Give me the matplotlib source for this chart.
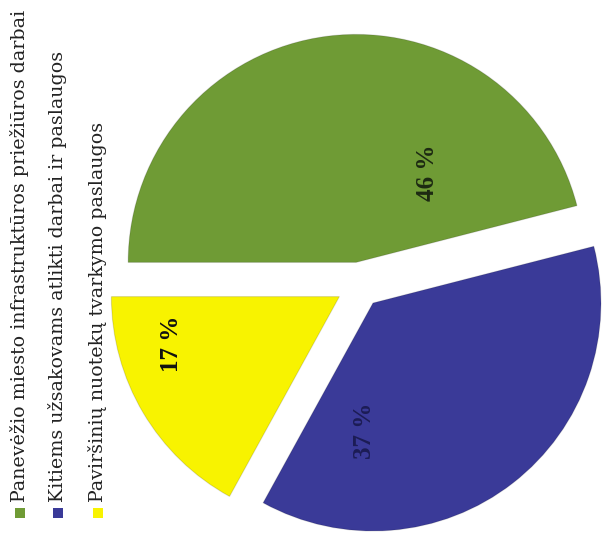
import matplotlib
matplotlib.use('Agg')
import matplotlib.pyplot as plt
from matplotlib.patches import Rectangle
import numpy as np

categories = ["Panevėžio miesto infrastruktūros priežiūros darbai",
              "Kitiems užsakovams atlikti darbai ir paslaugos",
              "Paviršinių nuotekų tvarkymo paslaugos"]
shares = [46, 37, 17]
pct_labels = ["46 %", "37 %", "17 %"]
colors = ["#6f9b35", "#3a3a98", "#f8f300"]
label_colors = ["#1d2a12", "#1c1c55", "#111111"]
# label placement (angle in degrees, distance in radius units) relative to pie centre
label_pos = [(58.7, 0.575), (-88.0, 0.64), (-162.5, 0.86)]

W, H = 604, 548
fig = plt.figure(figsize=(W / 100, H / 100), dpi=100)
ax = fig.add_axes([0, 0, 1, 1])
R = 228.0  # pixels per radius unit
cx, cy = 359.0, 285.0  # centre in pixels (from top-left)

wedges, _ = ax.pie(shares, colors=colors, startangle=180, counterclock=False,
                   explode=[0.1, 0.1, 0.1], radius=1,
                   wedgeprops=dict(linewidth=0.8, edgecolor="#00000022"))
ax.set_aspect('auto')
ax.set_xlim(-cx / R, (W - cx) / R)
ax.set_ylim(-(H - cy) / R, cy / R)
ax.axis('off')

for txt, col, (ang, r) in zip(pct_labels, label_colors, label_pos):
    a = np.deg2rad(ang)
    ax.text(r * np.cos(a), r * np.sin(a), txt, rotation=90, ha='center', va='center',
            fontsize=18, fontweight='bold', color=col, family='Liberation Serif')

# legend (rotated, reading bottom to top)
leg_x = [20, 58, 98]
sq_y = 513
txt_y = 502
target_len = 492.0  # pixel length of first legend entry
legend_texts = []
for lx, lab, col in zip(leg_x, categories, colors):
    fig.patches.append(Rectangle(((lx - 5) / W, 1 - (sq_y + 5) / H), 10 / W, 10 / H,
                                 transform=fig.transFigure, facecolor=col, edgecolor='none'))
    t = fig.text(lx / W, 1 - txt_y / H, lab, rotation=90, ha='center', va='bottom',
                 fontsize=14, color='#222222', family='DejaVu Serif')
    legend_texts.append(t)

renderer = fig.canvas.get_renderer()
ext = legend_texts[0].get_window_extent(renderer)
fs = 14 * target_len / ext.height
for t in legend_texts:
    t.set_fontsize(fs)

fig.savefig('out.png', dpi=100, facecolor='white')
